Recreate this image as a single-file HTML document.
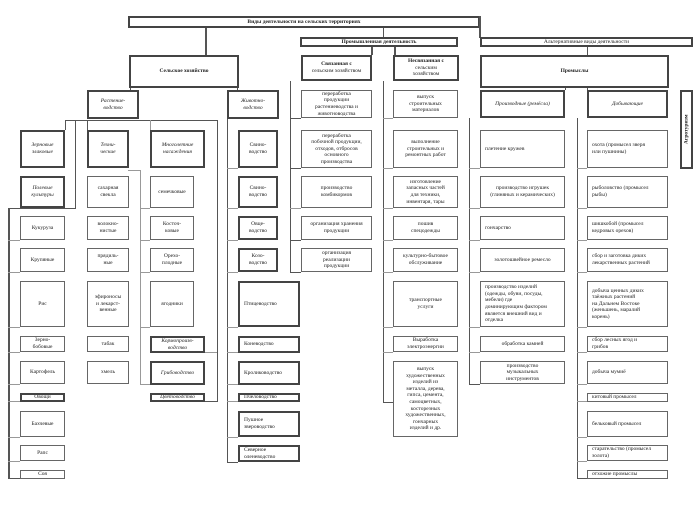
<!DOCTYPE html><html><head><meta charset="utf-8"><style>
body{margin:0;width:698px;height:505px;background:#fff;position:relative;overflow:hidden}
.b{position:absolute;border:1px solid #666;background:#fff;display:flex;align-items:center;justify-content:center;text-align:center;font:5.5px/1.2 "Liberation Serif",serif;box-sizing:border-box;color:#222;padding:0 1px;overflow:hidden}
.t{border:2px solid #444}
.i{font-style:italic}.w{font-weight:bold}.l{justify-content:flex-start;text-align:left;padding-left:4px}
.v,.h{position:absolute;background:#555}.v{width:1px}.h{height:1px}
.g{background:#999}
</style></head><body>
<!-- top -->
<div class="b t w" style="left:128px;top:16px;width:352px;height:12px">Виды деятельности на сельских территориях</div>
<div class="v" style="left:205px;top:28px;height:27px;width:2px"></div>
<div class="v" style="left:383px;top:28px;height:9px"></div>
<div class="v" style="left:479px;top:16px;height:22px;width:2px"></div>
<div class="b t w" style="left:300px;top:37px;width:158px;height:10px">Промышленная деятельность</div>
<div class="b t" style="left:480px;top:37px;width:213px;height:10px">Альтернативные виды деятельности</div>
<div class="b t w" style="left:129px;top:55px;width:110px;height:33px">Сельское хозяйство</div>
<div class="v" style="left:371px;top:47px;height:8px;width:2px"></div>
<div class="v" style="left:394px;top:47px;height:8px;width:2px"></div>
<div class="b t" style="left:301px;top:55px;width:71px;height:26px"><span><b>Связанная с</b><br>сельским хозяйством</span></div>
<div class="b t" style="left:393px;top:55px;width:66px;height:26px"><span><b>Несвязанная с</b><br>сельским<br>хозяйством</span></div>
<div class="v" style="left:587px;top:47px;height:8px"></div>
<div class="b t w" style="left:480px;top:55px;width:189px;height:33px">Промыслы</div>
<div class="v" style="left:565px;top:88px;height:2px"></div><div class="v" style="left:587px;top:88px;height:2px"></div>
<div class="b t" style="left:680px;top:90px;width:13px;height:79px"><span style="transform:rotate(-90deg);white-space:nowrap;font-weight:bold">Агротуризм</span></div>
<div class="b t i" style="left:480px;top:90px;width:85px;height:28px">Производные (ремёсла)</div>
<div class="b t i" style="left:587px;top:90px;width:81px;height:28px">Добывающие</div>
<!-- left tree -->
<div class="v" style="left:130px;top:88px;height:2px"></div><div class="v" style="left:237px;top:88px;height:2px"></div>
<div class="b t i" style="left:87px;top:90px;width:52px;height:29px">Растение-<br>водство</div>
<div class="b t i" style="left:227px;top:90px;width:52px;height:29px">Животно-<br>водство</div>
<div class="h" style="left:65px;top:120px;width:153px"></div>
<div class="v" style="left:65px;top:120px;height:10px"></div>
<div class="v" style="left:75px;top:120px;height:88px"></div>
<div class="v" style="left:87px;top:120px;height:10px"></div>
<div class="v g" style="left:150px;top:120px;height:10px"></div>
<div class="v" style="left:217px;top:120px;height:282px"></div>
<div class="v" style="left:8px;top:208px;height:270px;width:2px"></div>
<div class="h" style="left:8px;top:208px;width:68px"></div>
<div class="v g" style="left:140px;top:170px;height:215px"></div>
<div class="h g" style="left:128px;top:170px;width:12px"></div>
<div class="v" style="left:227px;top:119px;height:343px"></div>
<div class="v" style="left:290px;top:81px;height:191px"></div>
<div class="v" style="left:383px;top:81px;height:321px"></div>
<div class="v" style="left:469px;top:118px;height:267px"></div>
<div class="v" style="left:577px;top:118px;height:360px"></div>
<!-- row lines -->
<div class="h g" style="left:8px;top:240px;width:12px"></div><div class="h g" style="left:8px;top:272px;width:12px"></div><div class="h g" style="left:8px;top:327px;width:12px"></div><div class="h g" style="left:8px;top:352px;width:12px"></div><div class="h g" style="left:8px;top:384px;width:12px"></div><div class="h g" style="left:8px;top:401px;width:12px"></div><div class="h g" style="left:8px;top:437px;width:12px"></div><div class="h g" style="left:8px;top:461px;width:12px"></div><div class="h" style="left:8px;top:478px;width:12px"></div>
<div class="h g" style="left:140px;top:208px;width:10px"></div><div class="h g" style="left:140px;top:240px;width:10px"></div><div class="h g" style="left:140px;top:272px;width:10px"></div><div class="h g" style="left:140px;top:327px;width:10px"></div><div class="h g" style="left:140px;top:384px;width:10px"></div>
<div class="h g" style="left:205px;top:352px;width:12px"></div><div class="h" style="left:205px;top:401px;width:12px"></div>
<div class="h g" style="left:227px;top:168px;width:11px"></div><div class="h g" style="left:227px;top:208px;width:11px"></div><div class="h g" style="left:227px;top:240px;width:11px"></div><div class="h g" style="left:227px;top:272px;width:11px"></div><div class="h g" style="left:227px;top:327px;width:11px"></div><div class="h g" style="left:227px;top:352px;width:11px"></div><div class="h g" style="left:227px;top:384px;width:11px"></div><div class="h g" style="left:227px;top:401px;width:11px"></div><div class="h g" style="left:227px;top:437px;width:11px"></div><div class="h" style="left:227px;top:462px;width:11px"></div>
<div class="h" style="left:290px;top:118px;width:11px"></div><div class="h" style="left:290px;top:168px;width:11px"></div><div class="h g" style="left:290px;top:208px;width:11px"></div><div class="h" style="left:290px;top:240px;width:11px"></div><div class="h" style="left:290px;top:272px;width:11px"></div>
<div class="h g" style="left:383px;top:118px;width:10px"></div><div class="h g" style="left:383px;top:168px;width:10px"></div><div class="h g" style="left:383px;top:208px;width:10px"></div><div class="h g" style="left:383px;top:240px;width:10px"></div><div class="h g" style="left:383px;top:272px;width:10px"></div><div class="h g" style="left:383px;top:327px;width:10px"></div><div class="h g" style="left:383px;top:352px;width:10px"></div><div class="h" style="left:383px;top:402px;width:10px"></div>
<div class="h g" style="left:469px;top:168px;width:11px"></div><div class="h g" style="left:469px;top:208px;width:11px"></div><div class="h g" style="left:469px;top:240px;width:11px"></div><div class="h g" style="left:469px;top:272px;width:11px"></div><div class="h g" style="left:469px;top:327px;width:11px"></div><div class="h g" style="left:469px;top:352px;width:11px"></div><div class="h" style="left:469px;top:384px;width:11px"></div>
<div class="h g" style="left:577px;top:168px;width:10px"></div><div class="h g" style="left:577px;top:208px;width:10px"></div><div class="h g" style="left:577px;top:240px;width:10px"></div><div class="h g" style="left:577px;top:272px;width:10px"></div><div class="h g" style="left:577px;top:327px;width:10px"></div><div class="h g" style="left:577px;top:352px;width:10px"></div><div class="h g" style="left:577px;top:384px;width:10px"></div><div class="h g" style="left:577px;top:401px;width:10px"></div><div class="h g" style="left:577px;top:437px;width:10px"></div><div class="h g" style="left:577px;top:461px;width:10px"></div><div class="h" style="left:577px;top:478px;width:10px"></div>
<!-- col1 -->
<div class="b t i" style="left:20px;top:130px;width:45px;height:38px">Зерновые<br>злаковые</div>
<div class="b t i" style="left:20px;top:176px;width:45px;height:32px">Полевые<br>культуры</div>
<div class="b" style="left:20px;top:216px;width:45px;height:24px">Кукуруза</div>
<div class="b" style="left:20px;top:248px;width:45px;height:24px">Крупяные</div>
<div class="b" style="left:20px;top:281px;width:45px;height:46px">Рис</div>
<div class="b" style="left:20px;top:336px;width:45px;height:16px">Зерно-<br>бобовые</div>
<div class="b" style="left:20px;top:361px;width:45px;height:23px">Картофель</div>
<div class="b t" style="left:20px;top:393px;width:45px;height:9px">Овощи</div>
<div class="b" style="left:20px;top:411px;width:45px;height:26px">Бахчевые</div>
<div class="b" style="left:20px;top:445px;width:45px;height:16px">Рапс</div>
<div class="b" style="left:20px;top:470px;width:45px;height:9px">Соя</div>
<!-- col2 -->
<div class="b t i" style="left:87px;top:130px;width:42px;height:38px">Техни-<br>ческие</div>
<div class="b" style="left:87px;top:176px;width:42px;height:32px">сахарная<br>свекла</div>
<div class="b" style="left:87px;top:216px;width:42px;height:24px">волокно-<br>нистые</div>
<div class="b" style="left:87px;top:248px;width:42px;height:24px">прядиль-<br>ные</div>
<div class="b" style="left:87px;top:281px;width:42px;height:46px">эфироносы<br>и лекарст-<br>венные</div>
<div class="b" style="left:87px;top:336px;width:42px;height:16px">табак</div>
<div class="b" style="left:87px;top:361px;width:42px;height:23px">хмель</div>
<!-- col3 -->
<div class="b t i" style="left:150px;top:130px;width:55px;height:38px">Многолетние<br>насаждения</div>
<div class="b" style="left:150px;top:176px;width:44px;height:32px">семечковые</div>
<div class="b" style="left:150px;top:216px;width:44px;height:24px">Косточ-<br>ковые</div>
<div class="b" style="left:150px;top:248px;width:44px;height:24px">Орехо-<br>плодные</div>
<div class="b" style="left:150px;top:281px;width:44px;height:46px">ягодники</div>
<div class="b t i" style="left:150px;top:336px;width:55px;height:17px">Кормопроизв-<br>водство</div>
<div class="b t i" style="left:150px;top:361px;width:55px;height:24px">Грибоводство</div>
<div class="b t i" style="left:150px;top:393px;width:55px;height:9px">Цветоводство</div>
<!-- animals -->
<div class="b t" style="left:238px;top:130px;width:40px;height:38px">Свино-<br>водство</div>
<div class="b t" style="left:238px;top:176px;width:40px;height:32px">Свино-<br>водство</div>
<div class="b t" style="left:238px;top:216px;width:40px;height:24px">Овце-<br>водство</div>
<div class="b t" style="left:238px;top:248px;width:40px;height:24px">Козо-<br>водство</div>
<div class="b t l" style="left:238px;top:281px;width:62px;height:46px">Птицеводство</div>
<div class="b t l" style="left:238px;top:336px;width:62px;height:17px">Коневодство</div>
<div class="b t l" style="left:238px;top:361px;width:62px;height:24px">Кролиководство</div>
<div class="b t l" style="left:238px;top:393px;width:62px;height:9px">Пчеловодство</div>
<div class="b t l" style="left:238px;top:411px;width:62px;height:26px">Пушное<br>звероводство</div>
<div class="b t l" style="left:238px;top:445px;width:62px;height:17px">Северное<br>оленеводство</div>
<!-- svyaz -->
<div class="b" style="left:301px;top:90px;width:71px;height:28px">переработка<br>продукции<br>растениеводства и<br>животноводства</div>
<div class="b" style="left:301px;top:130px;width:71px;height:38px">переработка<br>побочной продукции,<br>отходов, отбросов<br>основного<br>производства</div>
<div class="b" style="left:301px;top:176px;width:71px;height:32px">производство<br>комбикормов</div>
<div class="b" style="left:301px;top:216px;width:71px;height:24px">организация хранения<br>продукции</div>
<div class="b" style="left:301px;top:248px;width:71px;height:24px">организация<br>реализации<br>продукции</div>
<!-- nesvyaz -->
<div class="b" style="left:393px;top:90px;width:65px;height:28px">выпуск<br>строительных<br>материалов</div>
<div class="b" style="left:393px;top:130px;width:65px;height:38px">выполнение<br>строительных и<br>ремонтных работ</div>
<div class="b" style="left:393px;top:176px;width:65px;height:32px">изготовление<br>запасных частей<br>для техники,<br>инвентаря, тары</div>
<div class="b" style="left:393px;top:216px;width:65px;height:24px">пошив<br>спецодежды</div>
<div class="b" style="left:393px;top:248px;width:65px;height:24px">культурно-бытовое<br>обслуживание</div>
<div class="b" style="left:393px;top:281px;width:65px;height:46px">транспортные<br>услуги</div>
<div class="b" style="left:393px;top:336px;width:65px;height:16px">Выработка<br>электроэнергии</div>
<div class="b" style="left:393px;top:361px;width:65px;height:76px">выпуск<br>художественных<br>изделий из<br>металла, дерева,<br>гипса, цемента,<br>самоцветных,<br>косторезных<br>художественных,<br>гончарных<br>изделий и др.</div>
<!-- proizv -->
<div class="b l" style="left:480px;top:130px;width:85px;height:38px">плетение кружев</div>
<div class="b" style="left:480px;top:176px;width:85px;height:32px">производство игрушек<br>(глиняных и керамических)</div>
<div class="b l" style="left:480px;top:216px;width:85px;height:24px">гончарство</div>
<div class="b" style="left:480px;top:248px;width:85px;height:24px">золотошвейное ремесло</div>
<div class="b l" style="left:480px;top:281px;width:85px;height:46px">производство изделий<br>(одежды, обуви, посуды,<br>мебели) где<br>доминирующим фактором<br>является внешний вид и<br>отделка</div>
<div class="b" style="left:480px;top:336px;width:85px;height:16px">обработка камней</div>
<div class="b" style="left:480px;top:361px;width:85px;height:23px">производство<br>музыкальных<br>инструментов</div>
<!-- dobyv -->
<div class="b l" style="left:587px;top:130px;width:81px;height:38px">охота (промысел зверя<br>или пушнины)</div>
<div class="b l" style="left:587px;top:176px;width:81px;height:32px">рыболовство (промысел<br>рыбы)</div>
<div class="b l" style="left:587px;top:216px;width:81px;height:24px">шишкобой (промысел<br>кедровых орехов)</div>
<div class="b l" style="left:587px;top:248px;width:81px;height:24px">сбор и заготовка диких<br>лекарственных растений</div>
<div class="b l" style="left:587px;top:281px;width:81px;height:46px">добыча ценных диких<br>таёжных растений<br>на Дальнем Востоке<br>(женьшень, маралий<br>корень)</div>
<div class="b l" style="left:587px;top:336px;width:81px;height:16px">сбор лесных ягод и<br>грибов</div>
<div class="b l" style="left:587px;top:361px;width:81px;height:23px">добыча мумиё</div>
<div class="b l" style="left:587px;top:393px;width:81px;height:9px">китовый промысел</div>
<div class="b l" style="left:587px;top:411px;width:81px;height:26px">бельковый промысел</div>
<div class="b l" style="left:587px;top:445px;width:81px;height:16px">старательство (промысел<br>золота)</div>
<div class="b l" style="left:587px;top:470px;width:81px;height:9px">отхожие промыслы</div>
</body></html>
